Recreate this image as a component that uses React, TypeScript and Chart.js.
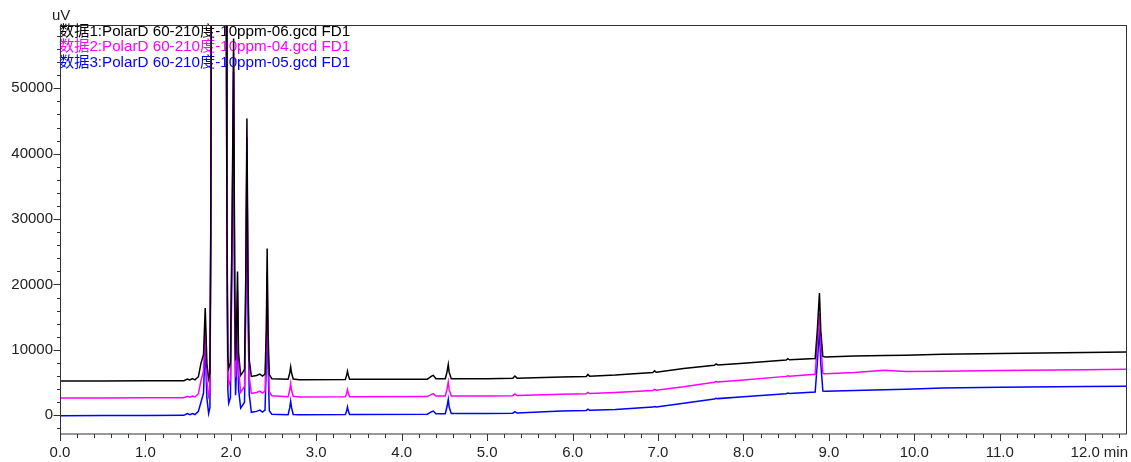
import React, { useEffect, useRef } from "react";
import { Chart, registerables } from "chart.js";

Chart.register(...registerables);

const legendLabels = [
  "数据1:PolarD 60-210度-10ppm-06.gcd FD1",
  "数据2:PolarD 60-210度-10ppm-04.gcd FD1",
  "数据3:PolarD 60-210度-10ppm-05.gcd FD1",
];
const seriesColors = ["#000000", "#ff00ff", "#0000ff"];
const yUnit = "uV";
const xUnit = "min";
const xTickValues = [0, 1, 2, 3, 4, 5, 6, 7, 8, 9, 10, 11, 12];
const yTickValues = [0, 10000, 20000, 30000, 40000, 50000];

// retention time, min
const times = [
  0.0, 0.5, 1.0, 1.45, 1.49, 1.52, 1.55, 1.58, 1.62, 1.65, 1.68, 1.7, 1.72, 1.74,
  1.755, 1.765, 1.772, 1.946, 1.954, 1.965, 1.975, 1.995, 2.015, 2.032, 2.045, 2.055,
  2.065, 2.078, 2.09, 2.115, 2.16, 2.175, 2.188, 2.2, 2.215, 2.24, 2.3, 2.34, 2.37,
  2.4, 2.415, 2.425, 2.435, 2.45, 2.48, 2.67, 2.69, 2.7, 2.71, 2.73, 2.8, 3.34, 3.355,
  3.365, 3.375, 3.39, 4.3, 4.35, 4.37, 4.4, 4.51, 4.53, 4.545, 4.555, 4.58, 5.0, 5.3,
  5.325, 5.35, 5.87, 6.16, 6.18, 6.2, 6.5, 6.94, 6.96, 6.98, 7.3, 7.66, 7.68, 7.7, 8.0,
  8.5, 8.52, 8.54, 8.84, 8.865, 8.89, 8.905, 8.93, 8.96, 9.3, 9.65, 9.9, 10.33, 11.0,
  12.0, 12.52,
];

// 数据1 (black), uV
const signal1 = [
  5250, 5260, 5280, 5300, 5550, 5400, 5600, 5420, 5900, 7950, 9300, 16400, 7800, 5600,
  6500, 30000, 70000, 70000, 30000, 9000, 7200, 8000, 30000, 57600, 20000, 8400,
  12000, 22000, 9500, 6100, 7000, 22000, 45400, 22000, 8500, 5950, 6100, 6300, 6000,
  6300, 13000, 25500, 13000, 6200, 5600, 5500, 6500, 7400, 6500, 5550, 5450, 5480, 6100,
  6730, 6100, 5500, 5520, 6000, 6100, 5600, 5600, 6600, 7750, 6600, 5600, 5600, 5650,
  6000, 5680, 5860, 5950, 6250, 5970, 6150, 6550, 6800, 6580, 7150, 7650, 7850, 7700, 7950,
  8450, 8650, 8480, 8670, 13000, 18700, 13000, 9000, 8920, 9050, 9150, 9200, 9330, 9450,
  9620, 9680,
];

// 数据2 (magenta), uV
const signal2 = [
  2650, 2660, 2680, 2700, 2900, 2780, 2950, 2800, 3300, 5300, 6700, 13750, 5200, 3000,
  3900, 28000, 70000, 70000, 28000, 6500, 4600, 5400, 28000, 55500, 17500, 5800,
  9000, 19000, 6800, 3500, 4400, 19500, 42500, 19500, 5900, 3350, 3500, 3700, 3400,
  3700, 10500, 22000, 10500, 3600, 3000, 2850, 3900, 4850, 3900, 2900, 2800, 2820, 3350,
  3930, 3350, 2840, 2860, 3200, 3300, 2950, 2950, 3950, 5090, 3950, 2950, 2960, 3000,
  3250, 3020, 3210, 3300, 3500, 3320, 3500, 3800, 3950, 3830, 4350, 5050, 5150, 5100, 5400,
  5950, 6050, 5980, 6270, 11000, 15600, 11000, 6400, 6370, 6530, 6880, 6700, 6730, 6850,
  6980, 7030,
];

// 数据3 (blue), uV
const signal3 = [
  -60, -50, -30, -10, 250, 100, 280, 120, 600, 2000, 3400, 11050, 2500, 280,
  1200, 26000, 70000, 70000, 26000, 3800, 1850, 2700, 26000, 52500, 15000, 3060,
  6500, 16500, 4000, 1100, 2000, 17000, 40000, 17000, 3200, 460, 600, 800, 500,
  800, 8000, 19500, 8000, 700, 150, 100, 1200, 2140, 1200, 120, 100, 130, 650,
  1270, 650, 140, 170, 550, 650, 250, 250, 1300, 2450, 1300, 260, 270, 320,
  570, 340, 660, 750, 950, 770, 900, 1250, 1350, 1280, 1850, 2500, 2600, 2550, 2850,
  3300, 3400, 3330, 3560, 8000, 13300, 8000, 3700, 3670, 3800, 3900, 4000, 4170, 4280,
  4400, 4430,
];

const signals = [signal1, signal2, signal3];

const X_MIN = 0;
const X_MAX = 12.49;
const Y_MIN = -2860;
const Y_MAX = 59680;

const FONT = '"Liberation Sans", Arial, "Noto Sans CJK SC", sans-serif';

const decorPlugin = {
  id: "decor",
  beforeDatasetsDraw(chart: any) {
    const { ctx, chartArea } = chart;
    ctx.save();
    ctx.font = `15.2px ${FONT}`;
    ctx.textAlign = "left";
    ctx.textBaseline = "middle";
    legendLabels.forEach((label, i) => {
      ctx.fillStyle = seriesColors[i];
      ctx.fillText(label, chartArea.left - 1, chartArea.top + 6.5 + i * 15.5);
    });
    ctx.restore();
  },
  afterDraw(chart: any) {
    const { ctx, chartArea, scales } = chart;
    const { left, top, right, bottom } = chartArea;
    const xs = scales.x;
    const ys = scales.y;
    ctx.save();
    ctx.strokeStyle = "#333333";
    ctx.lineWidth = 1;
    ctx.strokeRect(left + 0.5, top + 0.5, right - left - 1, bottom - top - 0.5);
    ctx.beginPath();
    for (let v = -2000; v <= Y_MAX; v += 2000) {
      const py = Math.round(ys.getPixelForValue(v)) + 0.5;
      const len = v % 10000 === 0 ? 7 : 3.5;
      ctx.moveTo(left + 0.5 - len, py);
      ctx.lineTo(left + 0.5, py);
    }
    for (let i = 0; i * 0.2 <= X_MAX + 1e-9; i++) {
      const px = Math.round(xs.getPixelForValue(i * 0.2)) + 0.5;
      const len = i % 5 === 0 ? 7 : 4;
      ctx.moveTo(px, bottom);
      ctx.lineTo(px, bottom + len);
    }
    ctx.stroke();
    ctx.fillStyle = "#222222";
    ctx.font = `15px ${FONT}`;
    ctx.textBaseline = "middle";
    ctx.textAlign = "left";
    ctx.fillText(yUnit, left - 8, 16);
    ctx.textAlign = "right";
    ctx.fillText(xUnit, right + 1, bottom + 19);
    ctx.restore();
  },
};

export default function App() {
  const canvasRef = useRef<HTMLCanvasElement | null>(null);

  useEffect(() => {
    const canvas = canvasRef.current;
    if (!canvas) return;
    const chart = new Chart(canvas, {
      type: "line",
      data: {
        datasets: signals.map((s, k) => ({
          label: legendLabels[k],
          data: times.map((t, i) => ({ x: t, y: s[i] })),
          borderColor: seriesColors[k],
          borderWidth: 1.5,
          pointRadius: 0,
          tension: 0,
          fill: false,
        })),
      },
      options: {
        animation: false,
        responsive: true,
        maintainAspectRatio: false,
        layout: { padding: { top: 25, right: 4, left: 0, bottom: 0 } },
        plugins: { legend: { display: false }, tooltip: { enabled: false } },
        scales: {
          x: {
            type: "linear",
            min: X_MIN,
            max: X_MAX,
            afterFit: (scale: any) => {
              scale.height = 28;
            },
            afterBuildTicks: (scale: any) => {
              scale.ticks = xTickValues.map((v) => ({ value: v }));
            },
            border: { display: false },
            grid: {
              display: true,
              drawOnChartArea: false,
              drawTicks: true,
              tickLength: 6,
              color: "rgba(0,0,0,0)",
            },
            ticks: {
              autoSkip: false,
              maxRotation: 0,
              padding: 4,
              color: "#222222",
              font: { family: FONT, size: 15 },
              callback: (v: any) => Number(v).toFixed(1),
            },
          },
          y: {
            type: "linear",
            min: Y_MIN,
            max: Y_MAX,
            afterFit: (scale: any) => {
              scale.width = 60;
            },
            afterBuildTicks: (scale: any) => {
              scale.ticks = yTickValues.map((v) => ({ value: v }));
            },
            border: { display: false },
            grid: {
              display: true,
              drawOnChartArea: false,
              drawTicks: true,
              tickLength: 6,
              color: "rgba(0,0,0,0)",
            },
            ticks: {
              autoSkip: false,
              padding: 1,
              color: "#222222",
              font: { family: FONT, size: 15 },
              callback: (v: any) => String(v),
            },
          },
        },
      },
      plugins: [decorPlugin],
    });
    return () => chart.destroy();
  }, []);

  return (
    <div
      style={{
        position: "absolute",
        left: 0,
        top: 0,
        width: 1131,
        height: 462,
        background: "#ffffff",
      }}
    >
      <canvas ref={canvasRef} />
    </div>
  );
}
